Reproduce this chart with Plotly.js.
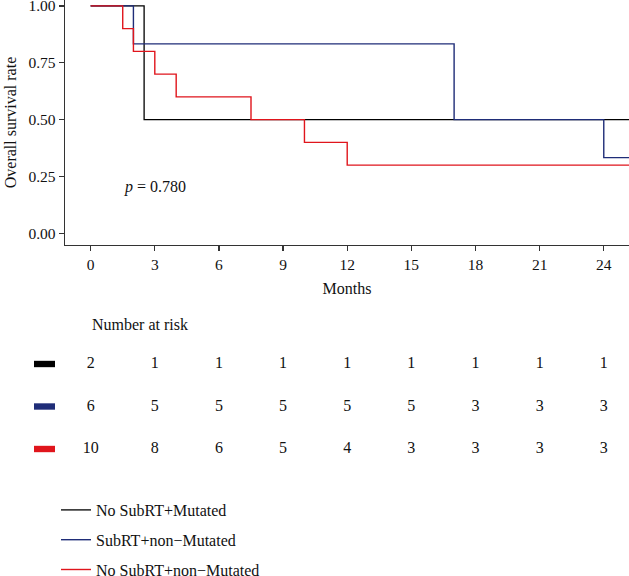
<!DOCTYPE html>
<html>
<head>
<meta charset="utf-8">
<script src="https://cdn.plot.ly/plotly-3.0.1.min.js"></script>
<style>html,body{margin:0;padding:0;background:#fff;}#chart{width:629px;height:576px;}</style>
</head>
<body>
<div id="chart"></div>
<script>
// ---- data ----
const groupNames = ['No SubRT+Mutated', 'SubRT+non\u2212Mutated', 'No SubRT+non\u2212Mutated'];
const groupColors = ['#000000', '#1f2d78', '#e0151c'];

const blackTime = [0, 2.5, 26];
const blackSurv = [1, 0.5, 0.5];
const blueTime = [0, 2, 17, 24, 26];
const blueSurv = [1, 0.833, 0.5, 0.333, 0.333];
const redTime = [0, 1.5, 2, 3, 4, 7.5, 10, 12, 26];
const redSurv = [1, 0.9, 0.8, 0.7, 0.6, 0.5, 0.4, 0.3, 0.3];

const riskMonths = [0, 3, 6, 9, 12, 15, 18, 21, 24];
const blackRisk = [2, 1, 1, 1, 1, 1, 1, 1, 1];
const blueRisk = [6, 5, 5, 5, 5, 5, 3, 3, 3];
const redRisk = [10, 8, 6, 5, 4, 3, 3, 3, 3];

const xTicks = [0, 3, 6, 9, 12, 15, 18, 21, 24];
const yTicks = [0, 0.25, 0.5, 0.75, 1];
const yTickText = ['0.00', '0.25', '0.50', '0.75', '1.00'];
const pText = '<i>p</i> = 0.780';

// ---- build ----
const FONT = '"Liberation Serif", "Times New Roman", Times, serif';
const W = 629, H = 576;
const curves = [[blackTime, blackSurv], [blueTime, blueSurv], [redTime, redSurv]];
const risks = [blackRisk, blueRisk, redRisk];

const traces = [];
curves.forEach((c, i) => {
  traces.push({
    x: c[0], y: c[1], type: 'scatter', mode: 'lines',
    line: {shape: 'hv', color: groupColors[i], width: i === 0 ? 1.3 : 1.4},
    name: groupNames[i], legendgroup: 'g' + i, showlegend: true,
    xaxis: 'x', yaxis: 'y', hoverinfo: 'skip'
  });
});
risks.forEach((r, i) => {
  traces.push({
    x: riskMonths, y: riskMonths.map(() => groupNames[i]),
    type: 'scatter', mode: 'text', text: r.map(String),
    textposition: 'middle center', textfont: {family: FONT, size: 16, color: '#111'},
    xaxis: 'x', yaxis: 'y2', showlegend: false, hoverinfo: 'skip', cliponaxis: false
  });
});

const shapes = groupNames.map((g, i) => ({
  type: 'rect', xref: 'paper', yref: 'y2',
  x0: 34 / W, x1: 55 / W,
  y0: (2 - i) - 0.075, y1: (2 - i) + 0.075,
  fillcolor: groupColors[i], line: {width: 0}
}));

const layout = {
  width: W, height: H,
  margin: {l: 0, r: 0, t: 0, b: 0, autoexpand: false},
  paper_bgcolor: '#fff', plot_bgcolor: '#fff',
  font: {family: FONT, size: 16, color: '#111'},
  showlegend: true,
  xaxis: {
    domain: [65 / W, 1], range: [-1.2, 25.18],
    tickvals: xTicks, ticktext: xTicks.map(String),
    ticks: 'outside', ticklen: 5, tickwidth: 1.2, tickcolor: '#333',
    showline: true, linecolor: '#333', linewidth: 1.3,
    showgrid: false, zeroline: false, automargin: false,
    tickfont: {family: FONT, size: 15.5, color: '#111'},
    title: {text: 'Months', font: {family: FONT, size: 16, color: '#111'}, standoff: 11},
    anchor: 'y', fixedrange: true
  },
  yaxis: {
    domain: [1 - 245 / H, 1], range: [-0.051, 1.026],
    tickvals: yTicks, ticktext: yTickText, ticklabeloverflow: 'allow',
    ticks: 'outside', ticklen: 5, tickwidth: 1.2, tickcolor: '#333',
    showline: true, linecolor: '#333', linewidth: 1.3,
    showgrid: false, zeroline: false, automargin: false,
    tickfont: {family: FONT, size: 15.5, color: '#111'},
    title: {text: 'Overall survival rate', font: {family: FONT, size: 16, color: '#111'}, standoff: 8},
    anchor: 'x', fixedrange: true
  },
  yaxis2: {
    domain: [0, 0.5], range: [-2.988, 3.788],
    type: 'category', categoryorder: 'array',
    categoryarray: [groupNames[2], groupNames[1], groupNames[0]],
    visible: false, anchor: 'x', fixedrange: true, automargin: false
  },
  shapes: shapes,
  annotations: [
    {text: pText, xref: 'x', yref: 'y', x: 3, y: 0.205, showarrow: false,
     xanchor: 'center', yanchor: 'middle', font: {family: FONT, size: 16, color: '#111'}},
    {text: 'Number at risk', xref: 'paper', yref: 'paper', x: 90 / W, y: 1 - 324 / H,
     showarrow: false, xanchor: 'left', yanchor: 'middle',
     font: {family: FONT, size: 16, color: '#111'}}
  ],
  legend: {
    x: 56 / W, y: 1 - 493 / H, xanchor: 'left', yanchor: 'top',
    orientation: 'v', traceorder: 'grouped', tracegroupgap: 6,
    font: {family: FONT, size: 16, color: '#111'},
    bgcolor: 'rgba(0,0,0,0)', borderwidth: 0
  }
};

Plotly.newPlot('chart', traces, layout, {displayModeBar: false, staticPlot: true});
</script>
</body>
</html>
